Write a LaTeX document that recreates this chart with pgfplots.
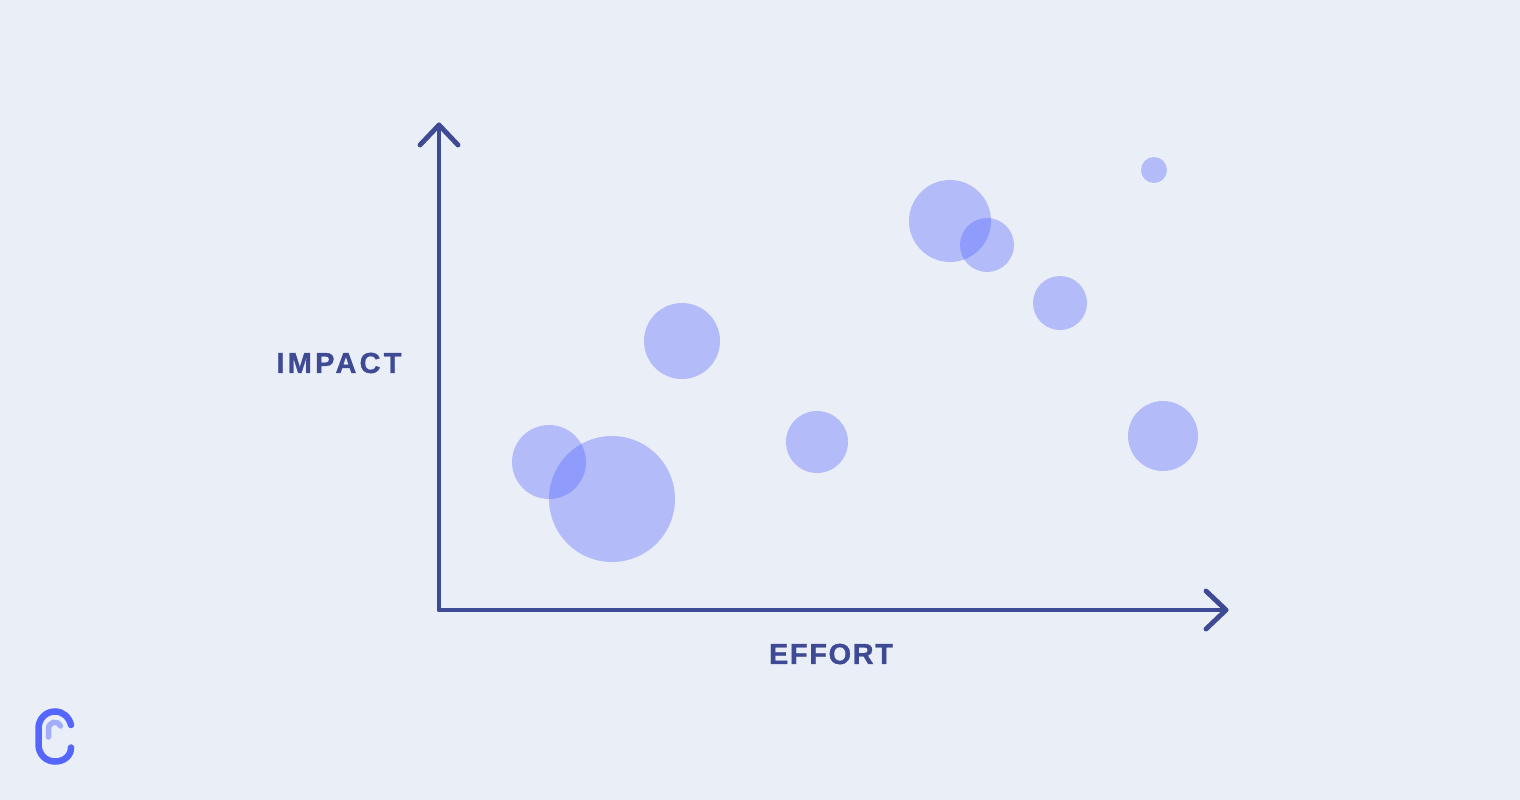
\documentclass[border=0pt]{standalone}
\usepackage{pgfplots}
\pgfplotsset{compat=1.18}
\usepackage{pgfplotstable}
\usepackage{fontspec}
\setmainfont{Liberation Sans}
\newfontfamily\labi[LetterSpace=11,FakeBold=1,UprightFont=* Bold]{Liberation Sans}
\newfontfamily\labe[LetterSpace=5.5,FakeBold=1,UprightFont=* Bold]{Liberation Sans}
\definecolor{bg}{HTML}{EAEFF7}
\definecolor{ax}{HTML}{3E4A94}
\definecolor{bub}{HTML}{5566FF}
\definecolor{logoa}{HTML}{5566FF}
\definecolor{logob}{HTML}{A3AEFA}

% fill only, the stock * mark also strokes
\pgfdeclareplotmark{disc}{\pgfpathcircle{\pgfqpoint{0pt}{0pt}}{\pgfplotmarksize}\pgfusepathqfill}

% x, y in image pixels, r = bubble radius
\pgfplotstableread{
x y r
1154 170 13
950 221 41
987 245 27
1060 303 27
682 341 38
817 442 31
1163 436 35
549 462 37
612 499 63
}\bubbles

\begin{document}
\begin{tikzpicture}
\begin{axis}[
    scale only axis,
    width=1520pt,
    height=800pt,
    xmin=0, xmax=1520,
    ymin=0, ymax=800,
    y dir=reverse,
    hide axis,
    clip=false,
]
\addplot[fill=bg, draw=none] coordinates {(0,0) (1520,0) (1520,800) (0,800)} \closedcycle;

\addplot[
    scatter, only marks, mark=disc,
    scatter/use mapped color={fill=bub},
    fill opacity=0.37,
    visualization depends on={\thisrow{r} \as \rad},
    scatter/@pre marker code/.append style={/tikz/mark size=\rad},
] table[x=x, y=y] {\bubbles};

% axes
\addplot[ax, line width=4.9pt, line join=round, line cap=round] coordinates {(439,125) (439,610) (1226,610)};
\addplot[ax, line width=4.9pt, line join=round, line cap=round] coordinates {(420,145) (439,125) (458,145)};
\addplot[ax, line width=4.9pt, line join=round, line cap=round] coordinates {(1206,591) (1226,610) (1206,629)};

\node[text=ax, font={\fontsize{29}{29}\selectfont\labi}] at (axis cs:339,363) {IMPACT};
\node[text=ax, font={\fontsize{29}{29}\selectfont\labe}] at (axis cs:831,654) {EFFORT};

% logo
\draw[logoa, line width=6.5pt, line cap=round]
    (axis cs:71,725) .. controls (axis cs:69,717) and (axis cs:63,711.5) .. (axis cs:55,711.5)
    .. controls (axis cs:45.5,711.5) and (axis cs:38.5,719) .. (axis cs:38.5,728.5)
    -- (axis cs:38.5,744.5)
    .. controls (axis cs:38.5,754) and (axis cs:45.5,761.5) .. (axis cs:55,761.5)
    .. controls (axis cs:64,761.5) and (axis cs:71,756) .. (axis cs:71,747.5);
\draw[logob, line width=5.5pt, line cap=round]
    (axis cs:48.5,737) -- (axis cs:48.5,729)
    .. controls (axis cs:48.5,722) and (axis cs:57,719.5) .. (axis cs:60.5,726);
\end{axis}
\end{tikzpicture}
\end{document}
